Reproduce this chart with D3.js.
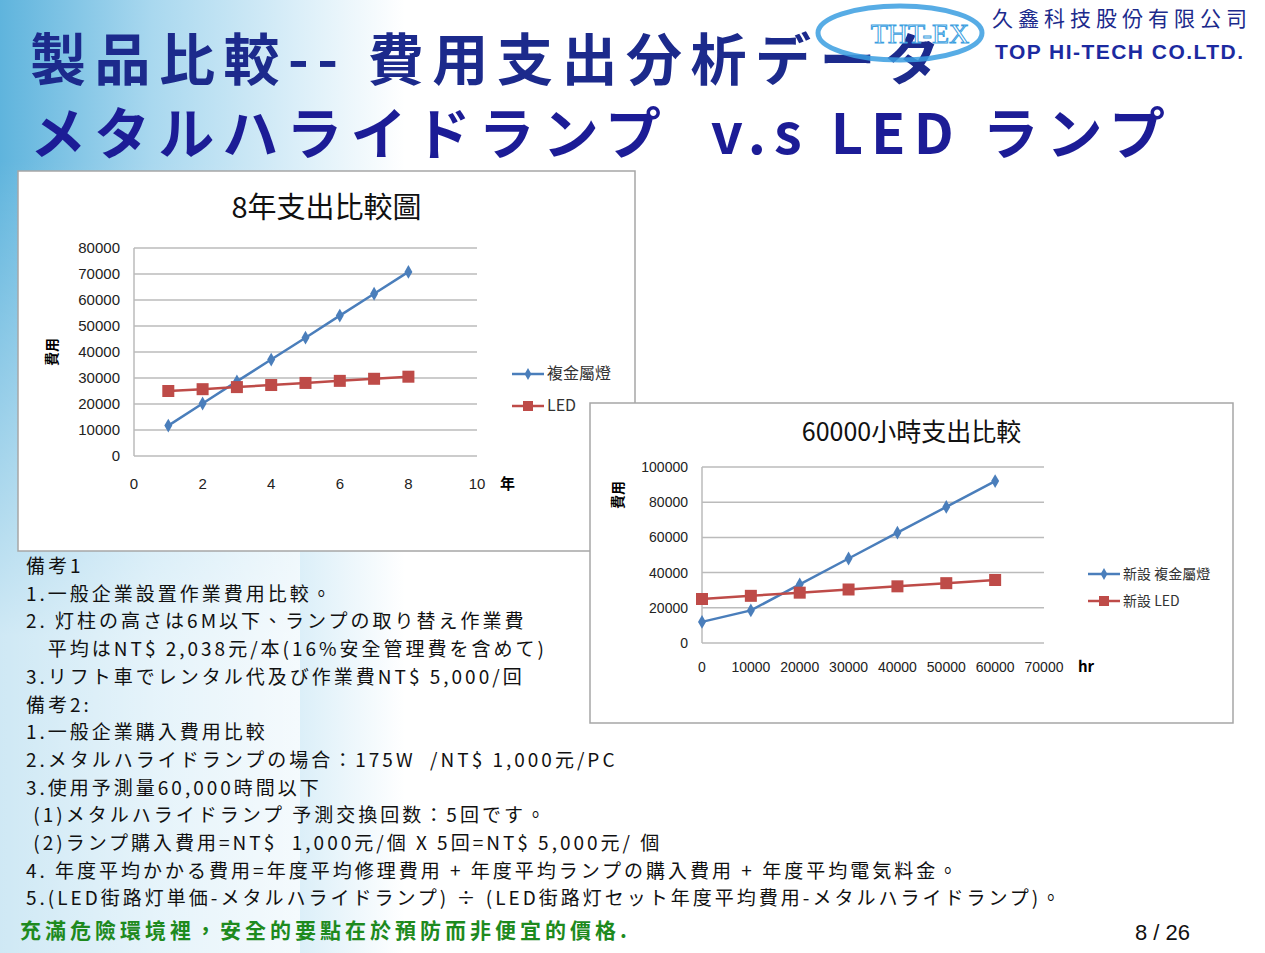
<!DOCTYPE html>
<html><head><meta charset="utf-8">
<script src="https://cdn.jsdelivr.net/npm/d3@7"></script>
<style>body{margin:0;background:#fff}svg{display:block}</style>
</head><body>
<script>
// chart 1: 8 years
const years = [1, 2, 3, 4, 5, 6, 7, 8];
const metal8 = [11700, 20200, 28700, 37100, 45500, 54000, 62400, 70800];
const led8 = [25000, 25700, 26500, 27300, 28100, 28900, 29700, 30500];
// chart 2: 60000 hours
const hours = [0, 10000, 20000, 30000, 40000, 50000, 60000];
const metalHr = [12000, 18500, 33300, 48000, 62700, 77300, 92000];
const ledHr = [25000, 26800, 28600, 30400, 32200, 34000, 35800];

const notes = [
  "備考1",
  "1.一般企業設置作業費用比較。",
  "2. 灯柱の高さは6M以下、ランプの取り替え作業費",
  "   平均はNT$ 2,038元/本(16%安全管理費を含めて)",
  "3.リフト車でレンタル代及び作業費NT$ 5,000/回",
  "備考2:",
  "1.一般企業購入費用比較",
  "2.メタルハライドランプの場合：175W  /NT$ 1,000元/PC",
  "3.使用予測量60,000時間以下",
  " (1)メタルハライドランプ 予測交換回数：5回です。",
  " (2)ランプ購入費用=NT$  1,000元/個 X 5回=NT$ 5,000元/ 個",
  "4. 年度平均かかる費用=年度平均修理費用 + 年度平均ランプの購入費用 + 年度平均電気料金。",
  "5.(LED街路灯単価-メタルハライドランプ) ÷ (LED街路灯セット年度平均費用-メタルハライドランプ)。"
];

const W = 1265, H = 953;
const svg = d3.select("body").append("svg").attr("width", W).attr("height", H);
const defs = svg.append("defs");
const g1 = defs.append("linearGradient").attr("id", "bg").attr("x1", 0).attr("x2", 1).attr("y1", 0).attr("y2", 0);
g1.append("stop").attr("offset", 0).attr("stop-color", "#5fb4dd");
g1.append("stop").attr("offset", 0.12).attr("stop-color", "#a9d8ef");
g1.append("stop").attr("offset", 0.32).attr("stop-color", "#ffffff");
svg.append("rect").attr("width", W).attr("height", H).attr("fill", "url(#bg)");
const g2 = defs.append("linearGradient").attr("id", "bg2").attr("x1", 0).attr("x2", 0).attr("y1", 0).attr("y2", 1);
g2.append("stop").attr("offset", 0).attr("stop-color", "#fff").attr("stop-opacity", 0);
g2.append("stop").attr("offset", 0.6).attr("stop-color", "#fff").attr("stop-opacity", 0.7);
svg.append("rect").attr("y", 160).attr("width", 300).attr("height", H - 160).attr("fill", "url(#bg2)");

const titleFont = "'Noto Sans CJK JP', sans-serif";
svg.append("text").attr("x", 30).attr("y", 80).attr("font-family", titleFont).attr("font-size", 56).attr("font-weight", "bold")
  .attr("fill", "#1c2a8c").attr("textLength", 910).attr("lengthAdjust", "spacing").text("製品比較-- 費用支出分析データ");
svg.append("text").attr("x", 30).attr("y", 154).attr("font-family", titleFont).attr("font-size", 56).attr("font-weight", "bold")
  .attr("fill", "#1c1c96").attr("textLength", 1135).attr("lengthAdjust", "spacing").attr("xml:space", "preserve").text("メタルハライドランプ  v.s LED ランプ");

// logo
svg.append("ellipse").attr("cx", 900).attr("cy", 33).attr("rx", 82).attr("ry", 27)
  .attr("fill", "none").attr("stroke", "#3a9ee0").attr("stroke-width", 5).attr("opacity", 0.85);
svg.append("text").attr("x", 920).attr("y", 43).attr("text-anchor", "middle").attr("font-family", "Liberation Serif")
  .attr("font-size", 28).attr("fill", "#fff").attr("stroke", "#3a9ee0").attr("stroke-width", 1).text("THT-EX");
svg.append("text").attr("x", 992).attr("y", 26).attr("font-family", titleFont).attr("font-size", 21)
  .attr("fill", "#1c2a8c").attr("textLength", 255).text("久鑫科技股份有限公司");
svg.append("text").attr("x", 995).attr("y", 59).attr("font-family", "Liberation Sans").attr("font-weight", "bold")
  .attr("font-size", 21).attr("fill", "#1c2aa0").attr("textLength", 248).text("TOP HI-TECH CO.LTD.");

const cf = "'Noto Sans CJK TC', sans-serif";
const blue = "#4a7ebb", red = "#be4b48";

function chart(box, plot, xDom, xTicks, yDom, yTicks, xs, s1, s2, opt) {
  svg.append("rect").attr("x", box[0]).attr("y", box[1]).attr("width", box[2]).attr("height", box[3])
    .attr("fill", "#fff").attr("stroke", "#a6a6a6").attr("stroke-width", 1.5);
  const x = d3.scaleLinear().domain(xDom).range([plot[0], plot[2]]);
  const y = d3.scaleLinear().domain(yDom).range([plot[3], plot[1]]);
  const g = svg.append("g");
  g.selectAll("line.grid").data(yTicks).join("line")
    .attr("x1", plot[0]).attr("x2", plot[2]).attr("y1", d => y(d)).attr("y2", d => y(d))
    .attr("stroke", "#bbb").attr("stroke-width", 1.5);
  g.append("line").attr("x1", plot[0]).attr("x2", plot[0]).attr("y1", plot[1]).attr("y2", plot[3]).attr("stroke", "#bbb").attr("stroke-width", 1.5);
  g.selectAll("text.yt").data(yTicks).join("text").attr("x", plot[0] - 14).attr("y", d => y(d) + 5)
    .attr("text-anchor", "end").attr("font-family", "Liberation Sans").attr("font-size", opt.fs).attr("fill", "#222").text(d => d);
  g.selectAll("text.xt").data(xTicks).join("text").attr("x", d => x(d)).attr("y", plot[3] + opt.xtDy)
    .attr("text-anchor", "middle").attr("font-family", "Liberation Sans").attr("font-size", opt.fs).attr("fill", "#222").text(d => d);
  g.append("text").attr("x", box[0] + box[2] / 2 + opt.titleDx).attr("y", opt.titleY).attr("text-anchor", "middle")
    .attr("font-family", cf).attr("font-size", opt.titleFs).attr("fill", "#111").text(opt.title);
  g.append("text").attr("transform", `translate(${opt.ylabX},${opt.ylabY}) rotate(-90)`).attr("text-anchor", "middle")
    .attr("font-family", cf).attr("font-weight", "bold").attr("font-size", 14).text("費用");
  g.append("text").attr("x", opt.unitX).attr("y", plot[3] + opt.xtDy).attr("font-family", cf).attr("font-weight", "bold")
    .attr("font-size", 15).text(opt.unit);
  const line = d3.line().x(d => x(d[0])).y(d => y(d[1]));
  [[s1, blue], [s2, red]].forEach(([s, c], k) => {
    const pts = xs.map((v, i) => [v, s[i]]);
    g.append("path").attr("d", line(pts)).attr("fill", "none").attr("stroke", c).attr("stroke-width", 2.5);
    if (k === 0) g.selectAll(null).data(pts).join("path").attr("d", d3.symbol(d3.symbolDiamond, 55)())
      .attr("transform", d => `translate(${x(d[0])},${y(d[1])})`).attr("fill", c);
    else g.selectAll(null).data(pts).join("rect").attr("x", d => x(d[0]) - 6).attr("y", d => y(d[1]) - 6)
      .attr("width", 12).attr("height", 12).attr("fill", c);
    const ly = opt.legY[k];
    g.append("line").attr("x1", opt.legX).attr("x2", opt.legX + 32).attr("y1", ly).attr("y2", ly).attr("stroke", c).attr("stroke-width", 2.5);
    if (k === 0) g.append("path").attr("d", d3.symbol(d3.symbolDiamond, 40)()).attr("transform", `translate(${opt.legX + 16},${ly})`).attr("fill", c);
    else g.append("rect").attr("x", opt.legX + 11).attr("y", ly - 5).attr("width", 10).attr("height", 10).attr("fill", c);
    g.append("text").attr("x", opt.legX + 35).attr("y", ly + 5).attr("font-family", cf).attr("font-size", opt.legFs)
      .attr("fill", "#333").text(opt.legend[k]);
  });
}

chart([18, 171, 617, 380], [134, 248, 477, 456], [0, 10], [0, 2, 4, 6, 8, 10],
  [0, 80000], d3.range(0, 80001, 10000), years, metal8, led8,
  {title: "8年支出比較圖", titleY: 218, titleDx: 0, titleFs: 29, fs: 15, legFs: 16, xtDy: 33, ylabX: 57, ylabY: 352,
   unit: "年", unitX: 500, legX: 512, legY: [374, 406], legend: ["複金屬燈", "LED"]});
chart([590, 403, 643, 320], [702, 467, 1044, 643], [0, 70000], d3.range(0, 70001, 10000),
  [0, 100000], d3.range(0, 100001, 20000), hours, metalHr, ledHr,
  {title: "60000小時支出比較", titleY: 441, titleDx: 0, titleFs: 25, fs: 14, legFs: 14, xtDy: 29, ylabX: 623, ylabY: 495,
   unit: "hr", unitX: 1078, legX: 1088, legY: [574, 601], legend: ["新設 複金屬燈", "新設 LED"]});

// notes
svg.append("g").selectAll("text").data(notes).join("text")
  .attr("x", 26).attr("y", (d, i) => 573 + i * 27.7).attr("xml:space", "preserve").attr("letter-spacing", 3)
  .attr("font-family", cf).attr("font-size", 19).attr("fill", "#111").text(d => d);
svg.append("text").attr("x", 20).attr("y", 938).attr("font-family", cf).attr("font-weight", "bold")
  .attr("font-size", 21).attr("fill", "#1e8a1e").attr("letter-spacing", 4).text("充滿危險環境裡，安全的要點在於預防而非便宜的價格.");
svg.append("text").attr("x", 1190).attr("y", 940).attr("text-anchor", "end").attr("font-family", "Liberation Sans")
  .attr("font-size", 22).attr("fill", "#111").text("8 / 26");
</script>
</body></html>
